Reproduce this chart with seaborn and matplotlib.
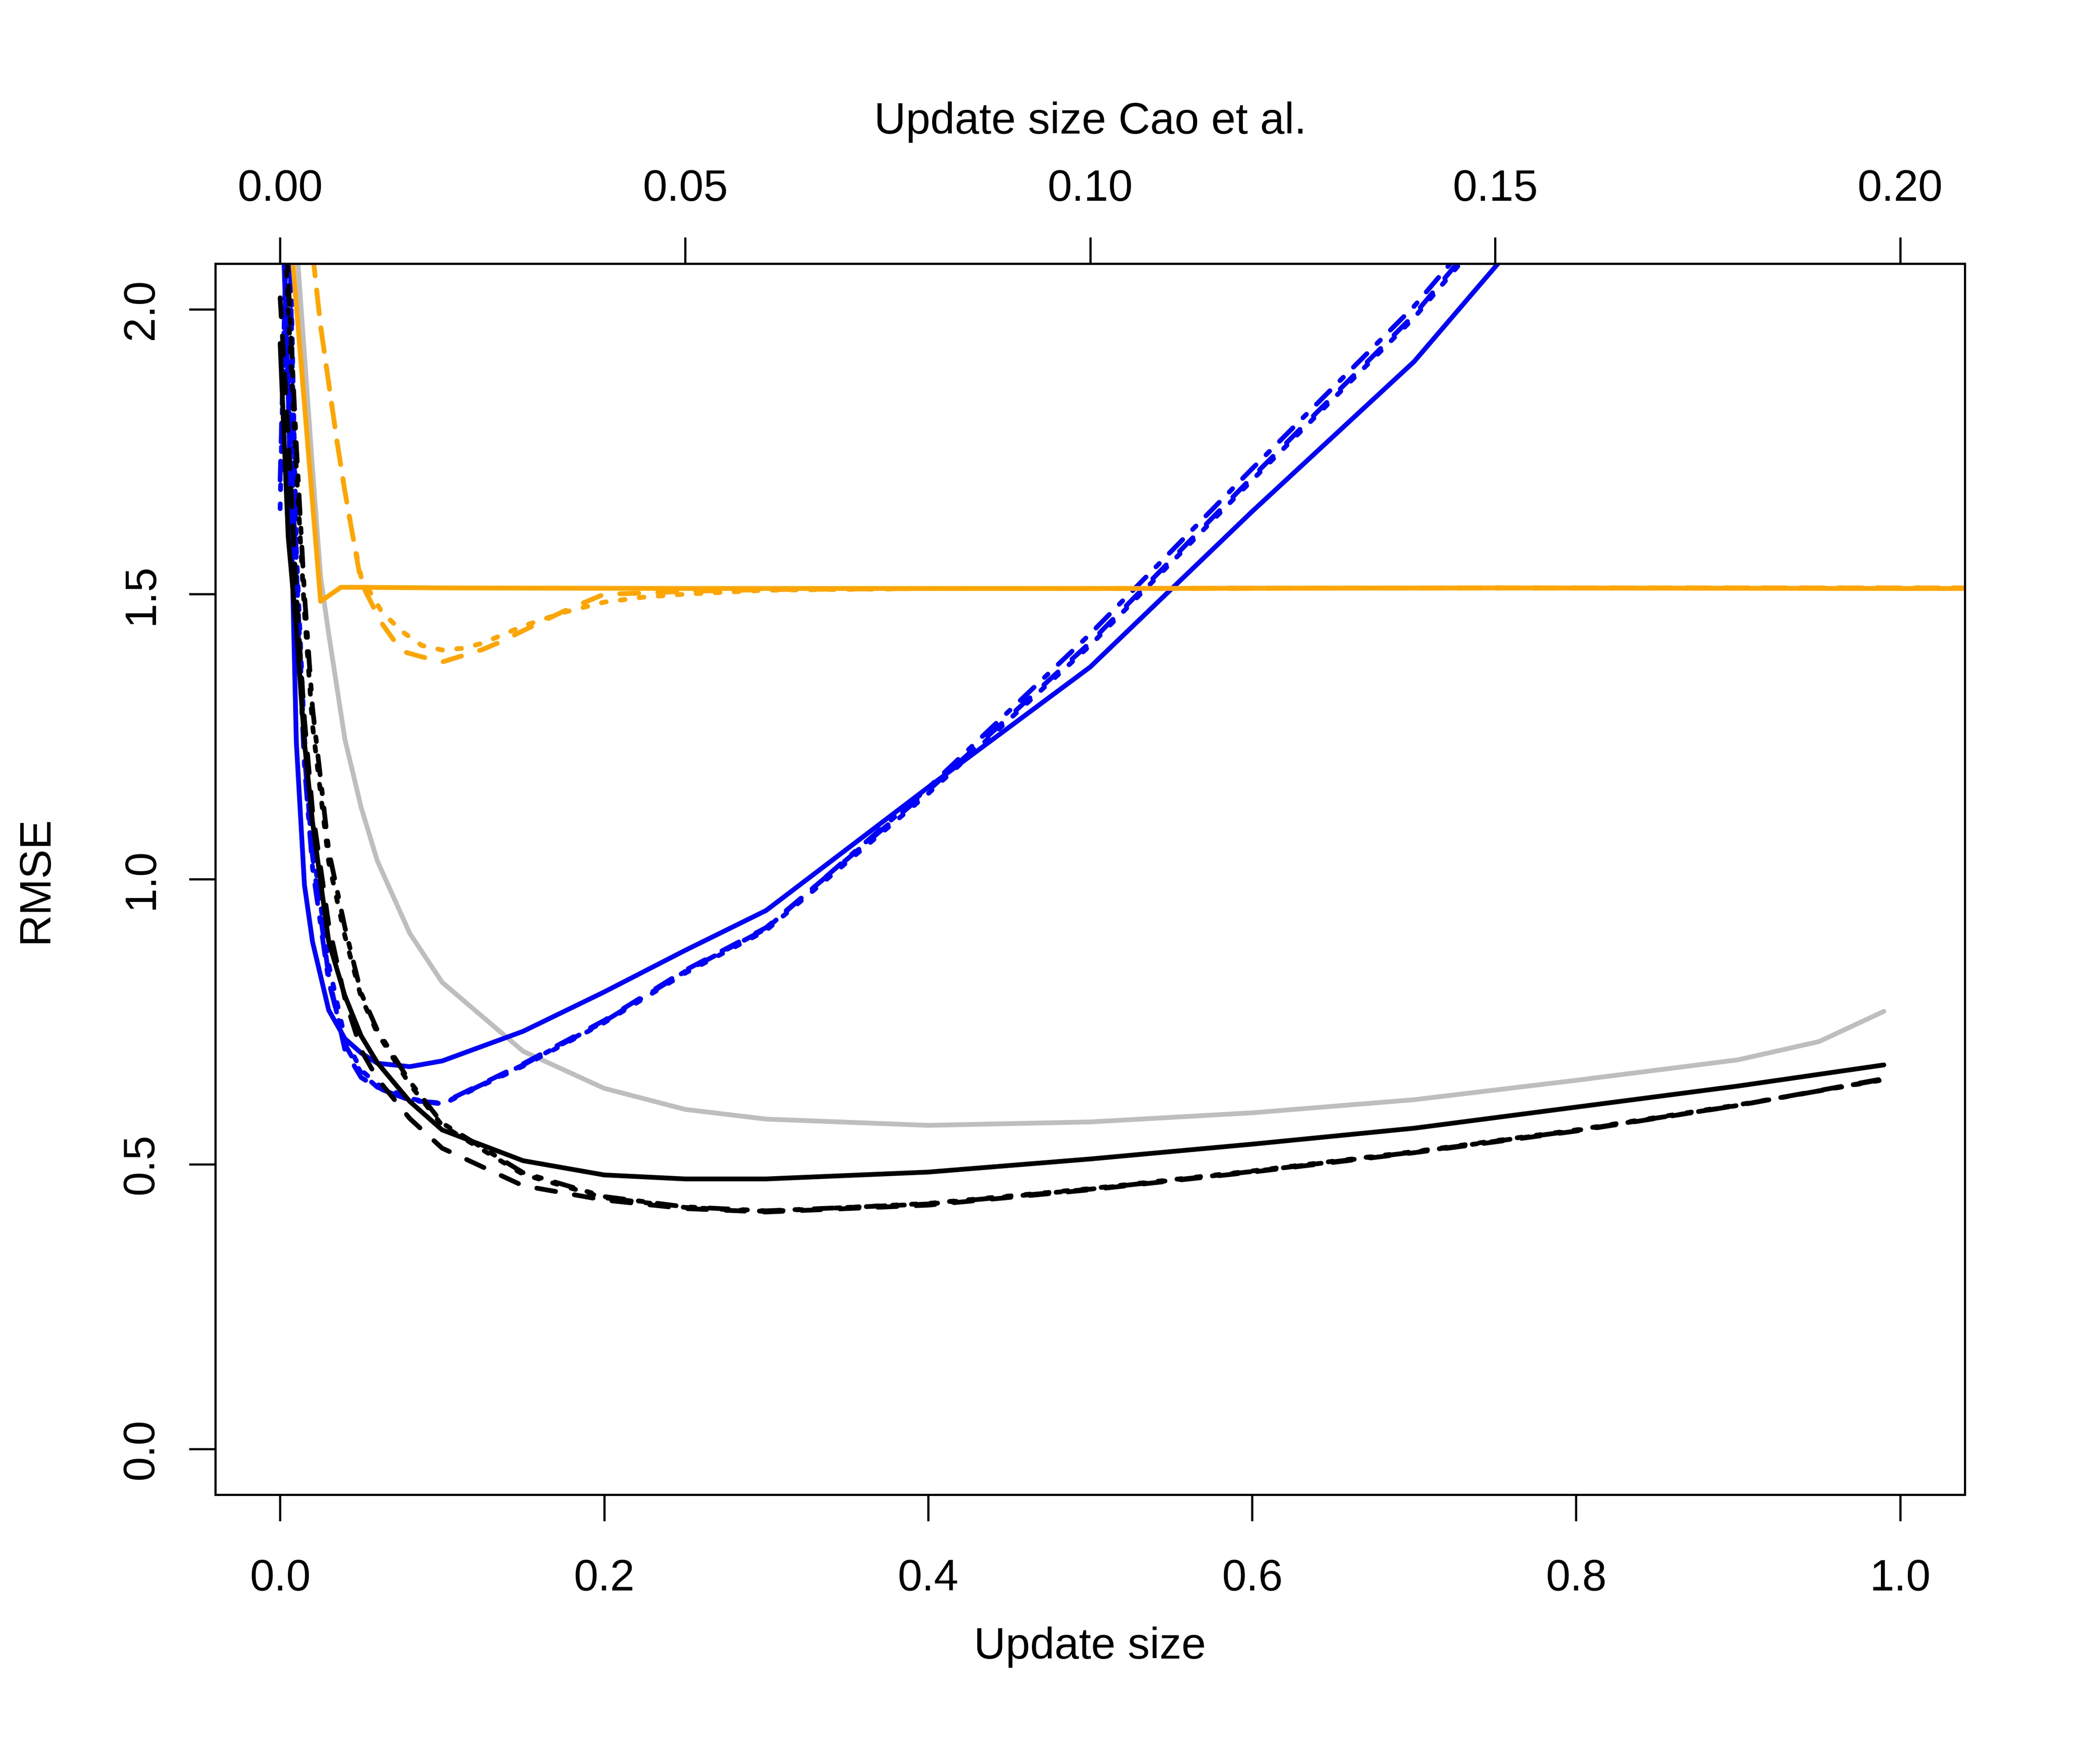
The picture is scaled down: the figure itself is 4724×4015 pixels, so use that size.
import matplotlib
matplotlib.use("Agg")
import matplotlib.pyplot as plt
import seaborn as sns

# ---------------- data ----------------
x_grid = [0, 0.005, 0.01, 0.015, 0.02, 0.03, 0.04, 0.05, 0.06, 0.08, 0.1,
          0.15, 0.2, 0.25, 0.3, 0.4, 0.5, 0.6, 0.7, 0.8, 0.9, 0.99]

black_solid = [1.94, 1.60, 1.44, 1.24, 1.10, 0.89, 0.795, 0.725, 0.678, 0.61, 0.56,
               0.506, 0.481, 0.474, 0.474, 0.486, 0.509, 0.535, 0.563, 0.600, 0.637, 0.674]
black_dashed = [2.02, 1.78, 1.50, 1.28, 1.12, 0.92, 0.79, 0.70, 0.65, 0.58, 0.528,
                0.462, 0.437, 0.422, 0.416, 0.428, 0.455, 0.486, 0.520, 0.558, 0.603, 0.650]
black_dotted = [2.30, 2.00, 1.72, 1.47, 1.27, 1.03, 0.90, 0.793, 0.73, 0.64, 0.568,
                0.482, 0.441, 0.424, 0.417, 0.431, 0.457, 0.488, 0.522, 0.560, 0.604, 0.648]
black_dotdash = [2.35, 2.05, 1.76, 1.50, 1.30, 1.05, 0.915, 0.80, 0.735, 0.645, 0.572,
                 0.485, 0.443, 0.425, 0.418, 0.430, 0.456, 0.487, 0.521, 0.559, 0.603, 0.649]

blue_solid = [2.30, 1.85, 1.24, 0.99, 0.89, 0.77, 0.72, 0.695, 0.677, 0.671, 0.681,
              0.733, 0.802, 0.875, 0.945, 1.161, 1.372, 1.645, 1.908, 2.24, 2.60, 2.95]
blue_dashed = [1.70, 2.25, 1.55, 1.22, 1.04, 0.83, 0.70, 0.652, 0.634, 0.612, 0.607,
               0.676, 0.752, 0.840, 0.915, 1.155, 1.415, 1.705, 1.990, 2.33, 2.70, 3.00]
blue_dotted = [1.65, 2.30, 1.58, 1.25, 1.06, 0.85, 0.72, 0.665, 0.640, 0.615, 0.605,
               0.672, 0.748, 0.835, 0.910, 1.150, 1.410, 1.700, 1.985, 2.32, 2.70, 3.00]
blue_dotdash = [2.40, 1.95, 1.50, 1.20, 1.02, 0.82, 0.71, 0.660, 0.635, 0.612, 0.606,
                0.674, 0.750, 0.838, 0.913, 1.160, 1.430, 1.720, 2.005, 2.34, 2.70, 3.00]

gray_x = [0.01, 0.02, 0.025, 0.03, 0.04, 0.05, 0.06, 0.08, 0.1, 0.15, 0.2, 0.25, 0.3,
          0.4, 0.5, 0.6, 0.7, 0.8, 0.9, 0.95, 0.99]
gray_y = [2.12, 1.72, 1.53, 1.43, 1.245, 1.126, 1.032, 0.905, 0.819, 0.698, 0.633, 0.596,
          0.579, 0.568, 0.574, 0.590, 0.613, 0.647, 0.683, 0.715, 0.768]

# Cao et al. (top axis scale)
cao_solid_x = [0.001, 0.005, 0.0075, 0.01, 0.02, 0.05, 0.1, 0.15, 0.2, 0.25]
cao_solid_y = [2.18, 1.4875, 1.512, 1.512, 1.511, 1.510, 1.510, 1.511, 1.510, 1.510]
cao_x = [0.004, 0.005, 0.006, 0.007, 0.008, 0.009, 0.01, 0.0125, 0.015, 0.0175, 0.02,
         0.0225, 0.025, 0.0275, 0.03, 0.035, 0.04, 0.045, 0.05, 0.06, 0.08, 0.1,
         0.15, 0.2, 0.25]
cao_dashed_y = [2.10, 1.97, 1.87, 1.77, 1.68, 1.60, 1.52, 1.450, 1.400, 1.390, 1.381,
                1.392, 1.403, 1.418, 1.436, 1.470, 1.500, 1.502, 1.505, 1.508, 1.510, 1.510,
                1.511, 1.511, 1.511]
cao_dotted_y = [2.10, 1.97, 1.87, 1.77, 1.68, 1.60, 1.530, 1.470, 1.435, 1.410, 1.402,
                1.405, 1.414, 1.429, 1.444, 1.468, 1.486, 1.495, 1.500, 1.507, 1.510, 1.510,
                1.511, 1.511, 1.511]

x_ticks = [0.0, 0.2, 0.4, 0.6, 0.8, 1.0]
x_ticklabels = ["0.0", "0.2", "0.4", "0.6", "0.8", "1.0"]
y_ticks = [0.0, 0.5, 1.0, 1.5, 2.0]
y_ticklabels = ["0.0", "0.5", "1.0", "1.5", "2.0"]
top_ticks = [0.0, 0.05, 0.10, 0.15, 0.20]
top_ticklabels = ["0.00", "0.05", "0.10", "0.15", "0.20"]

# ---------------- style ----------------
sns.set_style("ticks")
plt.rcParams["font.family"] = ["Liberation Sans", "DejaVu Sans"]
plt.rcParams["axes.edgecolor"] = "black"
plt.rcParams["axes.linewidth"] = 1.2
plt.rcParams["xtick.color"] = "black"
plt.rcParams["ytick.color"] = "black"
plt.rcParams["text.color"] = "black"
plt.rcParams["axes.labelcolor"] = "black"

DPI = 300
fig = plt.figure(figsize=(4724 / DPI, 4015 / DPI), dpi=DPI, facecolor="white")
ax = fig.add_axes([0.10373, 0.15268, 0.84272, 0.69788])

LW = 2.6
line_kw = dict(estimator=None, sort=False, legend=False,
               solid_capstyle="round", dash_capstyle="round",
               solid_joinstyle="round", dash_joinstyle="round")
DASHED = (0, (4, 4))
DOTTED = (0, (1, 3))
DOTDASH = (0, (1, 3, 4, 3))

sns.lineplot(x=gray_x, y=gray_y, ax=ax, color="#BEBEBE", linewidth=LW, linestyle="-", **line_kw)

for ys, ls in [(blue_solid, "-"), (blue_dashed, DASHED), (blue_dotted, DOTTED), (blue_dotdash, DOTDASH)]:
    sns.lineplot(x=x_grid, y=ys, ax=ax, color="#0000FF", linewidth=LW, linestyle=ls, **line_kw)

for ys, ls in [(black_solid, "-"), (black_dashed, DASHED), (black_dotted, DOTTED), (black_dotdash, DOTDASH)]:
    sns.lineplot(x=x_grid, y=ys, ax=ax, color="black", linewidth=LW, linestyle=ls, **line_kw)

ax.set_xlim(-0.04, 1.04)
ax.set_ylim(-0.08, 2.08)

ax2 = ax.twiny()
sns.lineplot(x=cao_solid_x, y=cao_solid_y, ax=ax2, color="#FFA500", linewidth=LW, linestyle="-", **line_kw)
sns.lineplot(x=cao_x, y=cao_dashed_y, ax=ax2, color="#FFA500", linewidth=LW, linestyle=DASHED, **line_kw)
sns.lineplot(x=cao_x, y=cao_dotted_y, ax=ax2, color="#FFA500", linewidth=LW, linestyle=DOTTED, **line_kw)
ax2.set_xlim(-0.04 / 5, 1.04 / 5)
ax.set_ylim(-0.08, 2.08)

# ---------------- axes decoration ----------------
FS = 24
ax.set_xticks(x_ticks, x_ticklabels, fontsize=FS)
ax.set_yticks(y_ticks, y_ticklabels, fontsize=FS, rotation=90, va="center")
ax2.set_xticks(top_ticks, top_ticklabels, fontsize=FS)

ax.tick_params(axis="x", direction="out", length=14.4, width=1.2, pad=20.5,
               bottom=True, top=False)
ax.tick_params(axis="y", direction="out", length=14.4, width=1.2, pad=14.6,
               left=True, right=False)
ax2.tick_params(axis="x", direction="out", length=14.4, width=1.2, pad=14.9,
                top=True, bottom=False)

for a in (ax, ax2):
    for sp in a.spines.values():
        sp.set_visible(True)
        sp.set_color("black")
        sp.set_linewidth(1.2)

ax.set_xlabel("Update size", fontsize=FS, va="baseline")
ax.xaxis.set_label_coords(0.5, -0.13312)
ax.set_ylabel("RMSE", fontsize=FS, va="baseline", rotation=90, rotation_mode="anchor")
ax.yaxis.set_label_coords(-0.09596, 0.5)
ax2.set_xlabel("Update size Cao et al.", fontsize=FS, va="baseline")
ax2.xaxis.set_label_coords(0.5, 1.10564)

fig.savefig("out.png", dpi=DPI, facecolor="white")
